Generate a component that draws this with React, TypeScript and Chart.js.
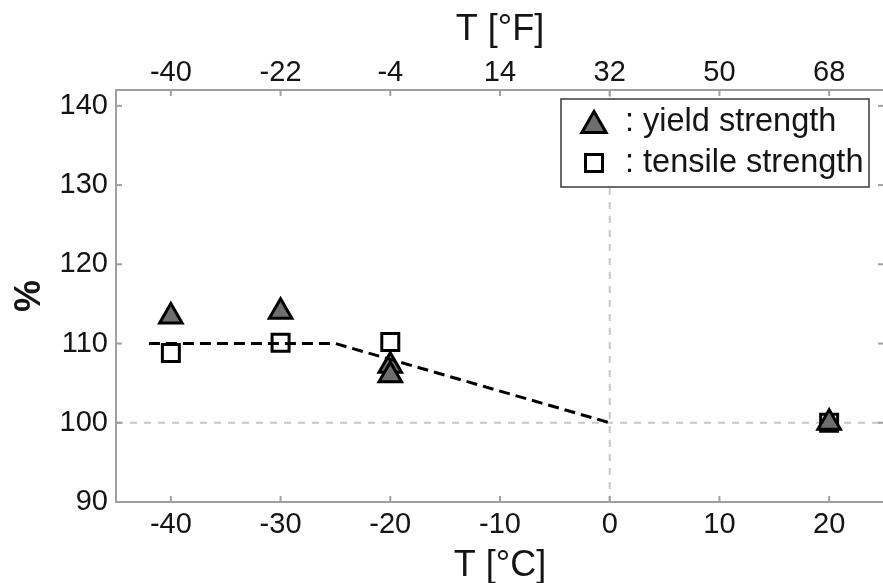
import React, { useEffect, useRef } from 'react';
import { Chart, registerables } from 'chart.js';

Chart.register(...registerables);

// ---- data ----
const yieldTempC = [-40, -30, -20, -20, 20];
const yieldPct = [113.4, 114.0, 107.2, 106.0, 100];
const tensileTempC = [-40, -30, -20, 20];
const tensilePct = [108.8, 110.1, 110.2, 100];
const trendTempC = [-42, -25, 0];
const trendPct = [110, 110, 100];

const celsiusTicks = [-40, -30, -20, -10, 0, 10, 20];
const fahrenheitTicks = [-40, -22, -4, 14, 32, 50, 68];
const percentTicks = [90, 100, 110, 120, 130, 140];
const legendLabels = [': yield strength', ': tensile strength'];

const xMinC = -45;
const xMaxC = 25;
const yMin = 90;
const yMax = 142;
const refTempC = 0;
const refPct = 100;

const toF = (c: number) => c * 1.8 + 32;

const FONT = '"Liberation Sans", Arial, sans-serif';
const TEXT = '#151515';

const framePlugin = {
  id: 'frameAndRefs',
  beforeDatasetsDraw(chart: any) {
    const { ctx, chartArea: a, scales } = chart;
    const line = (x1: number, y1: number, x2: number, y2: number) => {
      ctx.beginPath();
      ctx.moveTo(x1, y1);
      ctx.lineTo(x2, y2);
      ctx.stroke();
    };
    ctx.save();
    // reference lines
    ctx.strokeStyle = '#c8c8c8';
    ctx.lineWidth = 2;
    ctx.setLineDash([7, 7]);
    const x0 = scales.x.getPixelForValue(refTempC);
    line(x0, a.top, x0, a.bottom);
    const y0 = scales.y.getPixelForValue(refPct);
    line(a.left, y0, a.right, y0);
    ctx.setLineDash([]);
    // frame
    ctx.strokeStyle = '#a0a0a0';
    ctx.lineWidth = 2;
    ctx.strokeRect(a.left, a.top, a.right - a.left, a.bottom - a.top);
    // inward tick marks
    const L = 6;
    celsiusTicks.forEach((v) => {
      const px = scales.x.getPixelForValue(v);
      line(px, a.bottom, px, a.bottom - L);
    });
    fahrenheitTicks.forEach((v) => {
      const px = scales.x2.getPixelForValue(v);
      line(px, a.top, px, a.top + L);
    });
    percentTicks.forEach((v) => {
      const py = scales.y.getPixelForValue(v);
      line(a.left, py, a.left + L, py);
      line(a.right, py, a.right - L, py);
    });
    ctx.restore();
  },
};

const legendPlugin = {
  id: 'boxLegend',
  afterDraw(chart: any) {
    const { ctx, chartArea: a } = chart;
    const w = 308;
    const h = 88;
    const bx = a.right - 15 - w;
    const by = a.top + 9;
    ctx.save();
    ctx.fillStyle = '#ffffff';
    ctx.fillRect(bx, by, w, h);
    ctx.strokeStyle = '#3a3a3a';
    ctx.lineWidth = 1.5;
    ctx.strokeRect(bx, by, w, h);
    legendLabels.forEach((label, i) => {
      const cy = by + 23 + i * 41;
      const cx = bx + 33;
      const ds = chart.data.datasets[i + 1];
      ctx.lineWidth = ds.borderWidth;
      ctx.strokeStyle = ds.borderColor;
      ctx.fillStyle = ds.backgroundColor;
      ctx.beginPath();
      if (ds.pointStyle === 'triangle') {
        const r = 14;
        const c = cy + r * 0.25;
        ctx.moveTo(cx, c - r);
        ctx.lineTo(cx + r * Math.sin((2 * Math.PI) / 3), c + r * 0.5);
        ctx.lineTo(cx - r * Math.sin((2 * Math.PI) / 3), c + r * 0.5);
        ctx.closePath();
      } else {
        const s = 8.5;
        ctx.rect(cx - s, cy - s, 2 * s, 2 * s);
      }
      ctx.fill();
      ctx.stroke();
      ctx.font = `32.5px ${FONT}`;
      ctx.fillStyle = TEXT;
      ctx.textBaseline = 'middle';
      ctx.textAlign = 'left';
      ctx.fillText(label, bx + 64, cy);
    });
    ctx.restore();
  },
};

export default function App() {
  const ref = useRef<HTMLCanvasElement | null>(null);

  useEffect(() => {
    if (!ref.current) return;
    const chart = new Chart(ref.current, {
      type: 'scatter',
      data: {
        datasets: [
          {
            type: 'line',
            label: 'trend',
            data: trendTempC.map((x, i) => ({ x, y: trendPct[i] })),
            borderColor: '#000000',
            backgroundColor: '#000000',
            borderWidth: 3,
            borderDash: [11, 6],
            pointRadius: 0,
            fill: false,
            tension: 0,
          } as any,
          {
            label: 'yield strength',
            data: yieldTempC.map((x, i) => ({ x, y: yieldPct[i] })),
            pointStyle: 'triangle',
            pointRadius: 13,
            backgroundColor: '#6e6e6e',
            borderColor: '#000000',
            borderWidth: 3,
          } as any,
          {
            label: 'tensile strength',
            data: tensileTempC.map((x, i) => ({ x, y: tensilePct[i] })),
            pointStyle: 'rect',
            pointRadius: 12,
            backgroundColor: '#ffffff',
            borderColor: '#000000',
            borderWidth: 3,
          } as any,
        ],
      },
      options: {
        animation: false,
        responsive: false,
        devicePixelRatio: 1,
        layout: { padding: { left: 0, top: 0, right: 12, bottom: 0 } },
        plugins: { legend: { display: false }, tooltip: { enabled: false } },
        scales: {
          x: {
            type: 'linear',
            position: 'bottom',
            min: xMinC,
            max: xMaxC,
            afterBuildTicks: (s: any) => {
              s.ticks = celsiusTicks.map((v) => ({ value: v }));
            },
            afterFit: (s: any) => {
              s.height = 81;
            },
            grid: { display: false, drawTicks: false },
            border: { display: false },
            ticks: {
              font: { family: FONT, size: 29 },
              color: TEXT,
              padding: 6,
              maxRotation: 0,
              autoSkip: false,
            },
            title: {
              display: true,
              text: 'T [°C]',
              font: { family: FONT, size: 36, lineHeight: 0.85 },
              color: TEXT,
              padding: { top: 0, bottom: 2 },
            },
          },
          x2: {
            type: 'linear',
            position: 'top',
            min: toF(xMinC),
            max: toF(xMaxC),
            afterBuildTicks: (s: any) => {
              s.ticks = fahrenheitTicks.map((v) => ({ value: v }));
            },
            afterFit: (s: any) => {
              s.height = 90;
            },
            grid: { display: false, drawTicks: false },
            border: { display: false },
            ticks: {
              font: { family: FONT, size: 29 },
              color: TEXT,
              padding: 0,
              maxRotation: 0,
              autoSkip: false,
            },
            title: {
              display: true,
              text: 'T [°F]',
              font: { family: FONT, size: 36, lineHeight: 1 },
              color: TEXT,
              padding: { top: 12, bottom: 0 },
            },
          },
          y: {
            type: 'linear',
            position: 'left',
            min: yMin,
            max: yMax,
            afterBuildTicks: (s: any) => {
              s.ticks = percentTicks.map((v) => ({ value: v }));
            },
            afterFit: (s: any) => {
              s.width = 116;
            },
            grid: { display: false, drawTicks: false },
            border: { display: false },
            ticks: {
              font: { family: FONT, size: 29 },
              color: TEXT,
              padding: 8,
              autoSkip: false,
            },
            title: {
              display: true,
              text: '%',
              font: { family: FONT, size: 36, weight: 'bold', lineHeight: 1 },
              color: TEXT,
              padding: { top: 12, bottom: 0 },
            },
          },
        },
      } as any,
      plugins: [framePlugin, legendPlugin],
    });
    return () => chart.destroy();
  }, []);

  return (
    <div
      style={{
        position: 'absolute',
        left: 0,
        top: 0,
        width: 883,
        height: 583,
        overflow: 'hidden',
        background: '#ffffff',
      }}
    >
      <canvas ref={ref} width={900} height={583} style={{ display: 'block' }} />
    </div>
  );
}
